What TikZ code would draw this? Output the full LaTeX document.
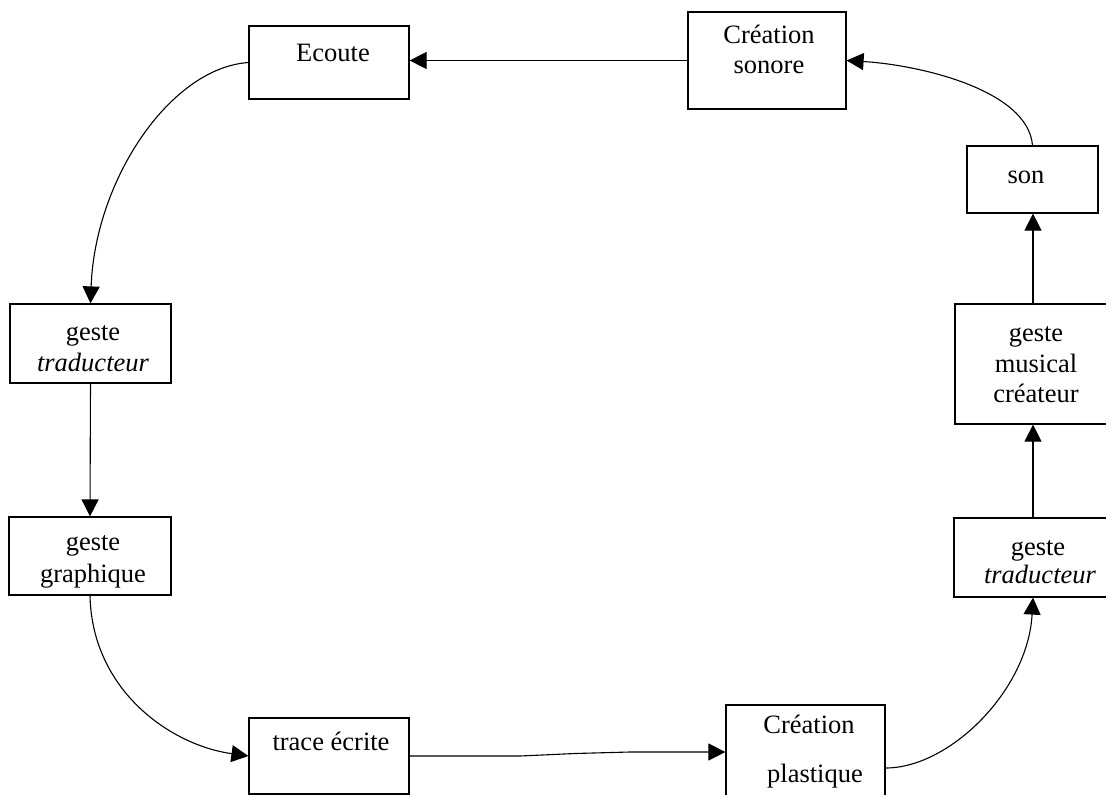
\documentclass[tikz,border=0pt]{standalone}
\usepackage{fontspec}
\setmainfont{Liberation Serif}
\usetikzlibrary{arrows.meta}
\begin{document}
\begin{tikzpicture}[x=1pt,y=-1pt,
  box/.style={draw,line width=1.2pt,rectangle,inner sep=0pt},
  txt/.style={font=\fontsize{26.5}{30}\selectfont,inner sep=0pt,anchor=base},
  conn/.style={line width=1.1pt,-{Triangle[length=17pt,width=17pt]}},
  plain/.style={line width=1.1pt}]
\useasboundingbox (0,0) rectangle (1106,795);
\clip (0,0) rectangle (1106,795);
% boxes
\node[box,minimum width=160pt,minimum height=73pt] (ecoute) at (329,62.5) {};
\node[box,minimum width=158pt,minimum height=97pt] (cs) at (767,60.5) {};
\node[box,minimum width=131pt,minimum height=67pt] (son) at (1032.5,179.5) {};
\node[box,minimum width=156pt,minimum height=120pt] (gmc) at (1033,364) {};
\node[box,minimum width=158pt,minimum height=79pt] (gtr) at (1033,557.5) {};
\node[box,minimum width=161pt,minimum height=79pt] (gtl) at (90.5,343.5) {};
\node[box,minimum width=162pt,minimum height=78pt] (gg) at (90,556) {};
\node[box,minimum width=160pt,minimum height=76pt] (te) at (329,756) {};
\node[box,minimum width=159pt,minimum height=94pt] (cp) at (805.5,752) {};
% texts
\node[txt] (t1) at (333,61) {Ecoute};
\node[txt] (t2) at (769,43) {Création};
\node[txt] (t3) at (769,73) {sonore};
\node[txt] (t4) at (1026,183) {son};
\node[txt] (t5) at (1036,341) {geste};
\node[txt] (t6) at (1036,372) {musical};
\node[txt] (t7) at (1036,402) {créateur};
\node[txt] (t8) at (1038,555) {geste};
\node[txt] (t9) at (1040,583) {\itshape traducteur};
\node[txt] (t10) at (93,340) {geste};
\node[txt] (t11) at (93,371) {\itshape traducteur};
\node[txt] (t12) at (93,550) {geste};
\node[txt] (t13) at (93,582) {graphique};
\node[txt] (t14) at (331,750) {trace écrite};
\node[txt] (t15) at (809,733) {Création};
\node[txt] (t16) at (815,782) {plastique};
% connectors
\draw[conn] (cs.west) -- (cs.west -| ecoute.east);
\draw[conn] (son.north) .. controls (1028,90) and (920,65) .. (cs.east);
\draw[conn] (gmc.north) -- (gmc.north |- son.south);
\draw[conn] (gtr.north) -- (gmc.south);
\draw[conn] ([yshift=-16pt]cp.east) .. controls (950,768) and (1028,690) .. (gtr.south);
\draw[conn] (te.east) -- (520,756) -- (575,753.5) -- (630,752) -- (cp.west);
\draw[conn] (gg.south) .. controls (92,690) and (170,745) .. (te.west);
\draw[conn] (gtl.south) -- (gg.north);
\draw[conn] (ecoute.west) .. controls (170,68) and (95,180) .. (gtl.north);
\end{tikzpicture}
\end{document}
